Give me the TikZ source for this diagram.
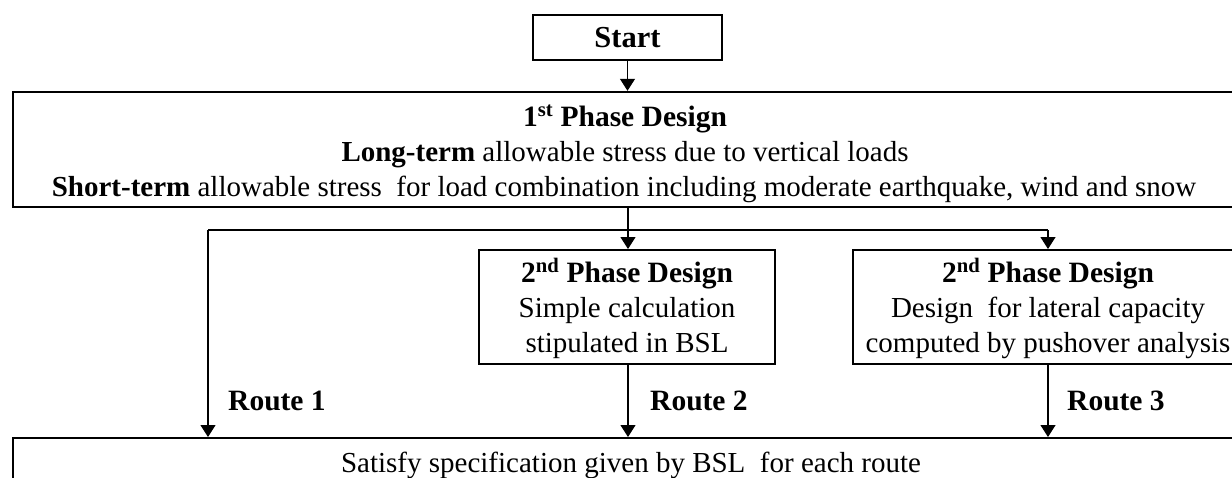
\documentclass[tikz,border=0pt]{standalone}
\usepackage{fontspec}
\setmainfont{Liberation Serif}
\usetikzlibrary{arrows.meta}
\tikzset{
  box/.style={draw, line width=2pt, inner sep=0pt},
  conn/.style={line width=1.2pt},
  arr/.style={conn, -{Triangle[width=15pt,length=12pt]}},
  txt/.style={anchor=base, inner sep=0pt, font=\fontsize{29}{34}\selectfont},
  btxt/.style={txt, font=\fontsize{29.5}{34}\selectfont\bfseries},
}
\begin{document}
\begin{tikzpicture}[x=1pt,y=-1pt]
\useasboundingbox (0,0) rectangle (1232,477);
\clip (0,0) rectangle (1232,477);
% boxes
\node[box, minimum width=189pt, minimum height=45pt] (start) at (627.5,37.5) {};
\node[btxt, font=\fontsize{30.5}{34}\selectfont\bfseries] (starttxt) at (627.5,47) {Start};
\node[box, line width=2.4pt, minimum width=1224pt, minimum height=115pt] (p1) at (625,149.5) {};
\node[btxt] (p1a) at (625,126) {1\textsuperscript{st} Phase Design};
\node[txt] (p1b) at (625,161) {\textbf{Long-term} allowable stress due to vertical loads};
\node[txt] (p1c) at (624,196) {\textbf{Short-term} allowable stress\ \ for load combination including moderate earthquake, wind and snow};
\node[box, minimum width=296pt, minimum height=114pt] (p2) at (627,307) {};
\node[btxt] (p2a) at (627,282) {2\textsuperscript{nd} Phase Design};
\node[txt] (p2b) at (627,317) {Simple calculation};
\node[txt] (p2c) at (627,352) {stipulated in BSL};
\node[box, minimum width=390pt, minimum height=114pt] (p3) at (1048,307) {};
\node[btxt] (p3a) at (1048,282) {2\textsuperscript{nd} Phase Design};
\node[txt] (p3b) at (1048,317) {Design\ \ for lateral capacity};
\node[txt] (p3c) at (1048,352) {computed by pushover analysis};
\node[box, minimum width=1224pt, minimum height=80pt] (bot) at (625,478) {};
\node[txt] (bott) at (631,472) {Satisfy specification given by BSL\ \ for each route};
% connectors
\coordinate (split) at (628,230);
\coordinate (j1) at (208,230);
\coordinate (j3) at (1048,230);
\draw[arr] (start.south -| starttxt) -- (p1.north -| starttxt);
\draw[conn] (p1.south -| split) -- (split);
\draw[conn] (j1) -- (j3);
\draw[arr] (j1) -- (j1 |- bot.north);
\draw[arr] (split) -- (split |- p2.north);
\draw[arr] (j3) -- (p3.north);
\draw[arr] (p2.south -| split) -- (split |- bot.north);
\draw[arr] (p3.south) -- (p3.south |- bot.north);
% route labels
\node[btxt, anchor=base west] (r1) at (228,410) {Route 1};
\node[btxt, anchor=base west] (r2) at (650,410) {Route 2};
\node[btxt, anchor=base west] (r3) at (1067,410) {Route 3};
\end{tikzpicture}
\end{document}
